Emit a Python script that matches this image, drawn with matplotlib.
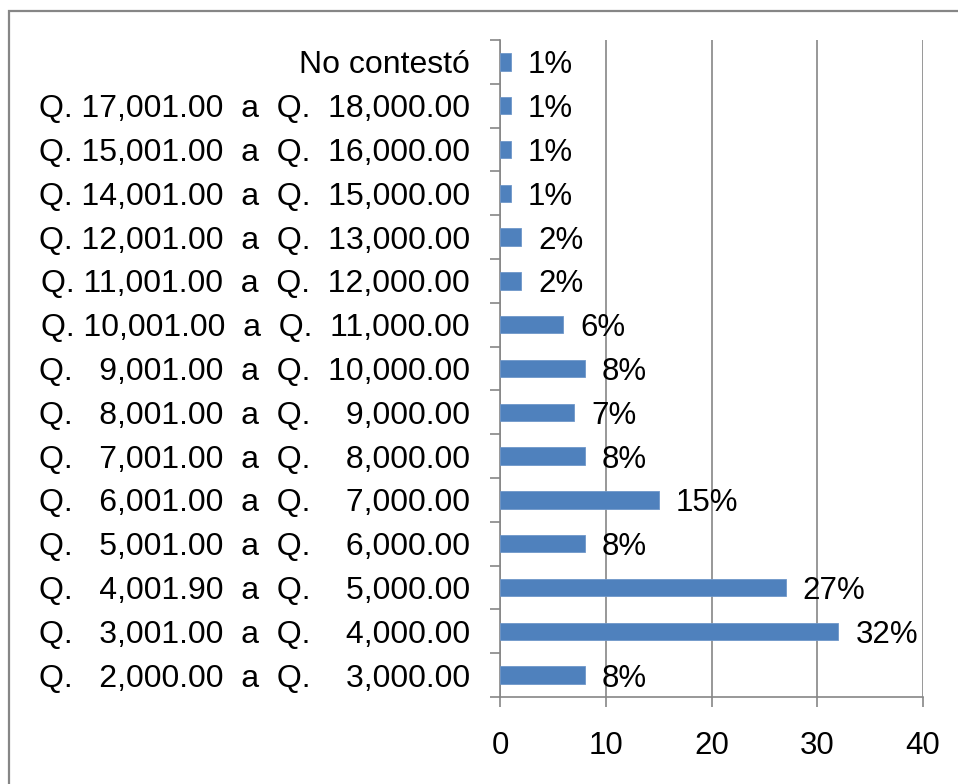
import matplotlib.pyplot as plt
from matplotlib.patches import Rectangle
from matplotlib.ticker import FixedLocator

plt.rcParams['font.family'] = ['Liberation Sans', 'DejaVu Sans']

# categories from bottom to top
rangos = [
    "Q.   2,000.00  a  Q.    3,000.00",
    "Q.   3,001.00  a  Q.    4,000.00",
    "Q.   4,001.90  a  Q.    5,000.00",
    "Q.   5,001.00  a  Q.    6,000.00",
    "Q.   6,001.00  a  Q.    7,000.00",
    "Q.   7,001.00  a  Q.    8,000.00",
    "Q.   8,001.00  a  Q.    9,000.00",
    "Q.   9,001.00  a  Q.  10,000.00",
    "Q. 10,001.00  a  Q.  11,000.00",
    "Q. 11,001.00  a  Q.  12,000.00",
    "Q. 12,001.00  a  Q.  13,000.00",
    "Q. 14,001.00  a  Q.  15,000.00",
    "Q. 15,001.00  a  Q.  16,000.00",
    "Q. 17,001.00  a  Q.  18,000.00",
    "No contestó",
]
porcentajes = [8, 32, 27, 8, 15, 8, 7, 8, 6, 2, 2, 1, 1, 1, 1]
xticks = [0, 10, 20, 30, 40]

gris = "#868686"
azul = "#4F81BD"
fs = 22.5

fig = plt.figure(figsize=(9.58, 7.84), dpi=100)
ax = fig.add_axes([500 / 958, 1 - 697 / 784, 423 / 958, 657 / 784])

pos = list(range(len(rangos)))
ax.barh(pos, porcentajes, height=0.4, color=azul, edgecolor="#6f97c9", linewidth=0.6, zorder=3)

for y, v in zip(pos, porcentajes):
    ax.annotate(f"{v}%", xy=(v, y), xytext=(17, 0), textcoords="offset pixels",
                va="center_baseline", ha="left", fontsize=fs, color="black")

ax.set_xlim(0, 40)
ax.set_ylim(-0.5, len(rangos) - 0.5)
ax.set_xticks(xticks)
ax.set_xticklabels([str(t) for t in xticks], fontsize=fs)
ax.set_yticks(pos)
ax.set_yticklabels(rangos, fontsize=23, va="center_baseline")
ax.yaxis.set_minor_locator(FixedLocator([p - 0.5 for p in range(len(rangos) + 1)]))

ax.tick_params(axis="y", which="major", length=0, pad=30 * 0.72)
ax.tick_params(axis="y", which="minor", length=7.2, width=1.2, color=gris, direction="out")
ax.tick_params(axis="x", length=7.2, width=1.2, color=gris, direction="out", pad=17)

ax.grid(axis="x", color=gris, linewidth=1.2, zorder=0)
for s in ["top", "right"]:
    ax.spines[s].set_visible(False)
for s in ["left", "bottom"]:
    ax.spines[s].set_color(gris)
    ax.spines[s].set_linewidth(1.2)

# outer chart border (cut by the image edge on right and bottom)
fig.patches.append(Rectangle((9 / 958, -0.05), 1.2, 1 - 11 / 784 + 0.05,
                             transform=fig.transFigure, fill=False,
                             edgecolor=gris, linewidth=1.6))

fig.savefig("out.png", dpi=100)
